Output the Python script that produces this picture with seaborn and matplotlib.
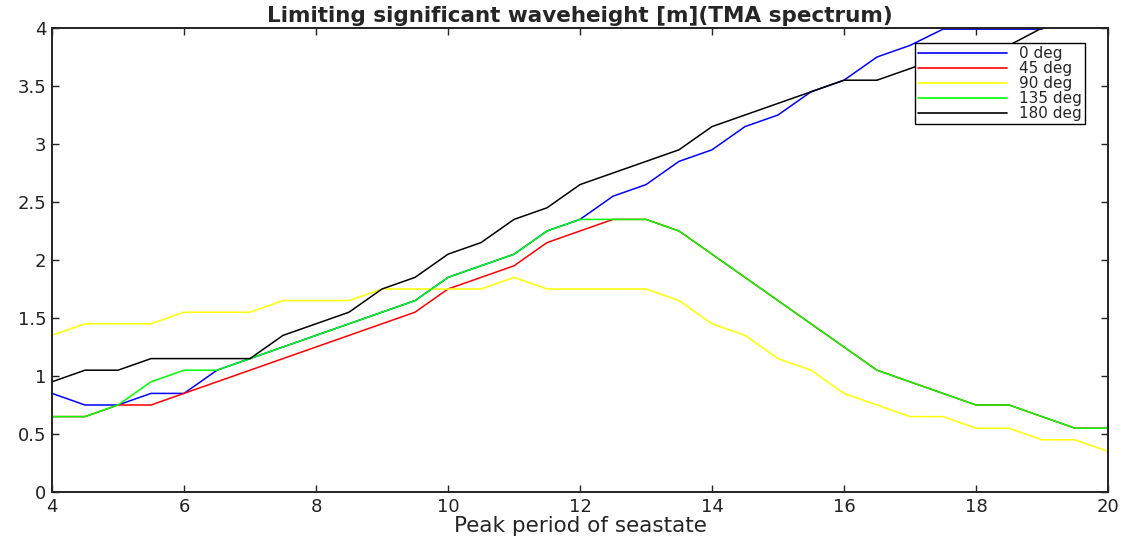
import numpy as np
import pandas as pd
import matplotlib
matplotlib.use("Agg")
import matplotlib.pyplot as plt
import seaborn as sns

# ---- data ----
periods = [4, 4.5, 5, 5.5, 6, 6.5, 7, 7.5, 8, 8.5, 9, 9.5, 10, 10.5, 11, 11.5,
           12, 12.5, 13, 13.5, 14, 14.5, 15, 15.5, 16, 16.5, 17, 17.5, 18, 18.5,
           19, 19.5, 20]
hs_0 = [0.85, 0.75, 0.75, 0.85, 0.85, 1.05, 1.15, 1.25, 1.35, 1.45, 1.55, 1.65,
        1.85, 1.95, 2.05, 2.25, 2.35, 2.55, 2.65, 2.85, 2.95, 3.15, 3.25, 3.45,
        3.55, 3.75, 3.85, 3.99, 3.99, 3.99, 3.99, 4.2, 4.4]
hs_45 = [0.65, 0.65, 0.75, 0.75, 0.85, 0.95, 1.05, 1.15, 1.25, 1.35, 1.45, 1.55,
         1.75, 1.85, 1.95, 2.15, 2.25, 2.35, 2.35, 2.25, 2.05, 1.85, 1.65, 1.45,
         1.25, 1.05, 0.95, 0.85, 0.75, 0.75, 0.65, 0.55, 0.55]
hs_90 = [1.35, 1.45, 1.45, 1.45, 1.55, 1.55, 1.55, 1.65, 1.65, 1.65, 1.75, 1.75,
         1.75, 1.75, 1.85, 1.75, 1.75, 1.75, 1.75, 1.65, 1.45, 1.35, 1.15, 1.05,
         0.85, 0.75, 0.65, 0.65, 0.55, 0.55, 0.45, 0.45, 0.35]
hs_135 = [0.65, 0.65, 0.75, 0.95, 1.05, 1.05, 1.15, 1.25, 1.35, 1.45, 1.55, 1.65,
          1.85, 1.95, 2.05, 2.25, 2.35, 2.35, 2.35, 2.25, 2.05, 1.85, 1.65, 1.45,
          1.25, 1.05, 0.95, 0.85, 0.75, 0.75, 0.65, 0.55, 0.55]
hs_180 = [0.95, 1.05, 1.05, 1.15, 1.15, 1.15, 1.15, 1.35, 1.45, 1.55, 1.75, 1.85,
          2.05, 2.15, 2.35, 2.45, 2.65, 2.75, 2.85, 2.95, 3.15, 3.25, 3.35, 3.45,
          3.55, 3.55, 3.65, 3.75, 3.85, 3.85, 4.0, 4.2, 4.4]
series_labels = ["0 deg", "45 deg", "90 deg", "135 deg", "180 deg"]
series_colors = ["#0000ff", "#ff0000", "#ffff00", "#00ff00", "#000000"]
xticks = [4, 6, 8, 10, 12, 14, 16, 18, 20]
yticks = [0, 0.5, 1, 1.5, 2, 2.5, 3, 3.5, 4]
ytick_labels = ["0", "0.5", "1", "1.5", "2", "2.5", "3", "3.5", "4"]
title = "Limiting significant waveheight [m](TMA spectrum)"
xlabel = "Peak period of seastate"

# ---- build long-form frame ----
frames = []
for lab, vals in zip(series_labels, [hs_0, hs_45, hs_90, hs_135, hs_180]):
    frames.append(pd.DataFrame({"period": periods, "hs": vals, "dir": lab}))
df = pd.concat(frames, ignore_index=True)

sns.set_style("ticks")
plt.rcParams["font.family"] = ["DejaVu Sans"]

W, H = 1131, 536
fig = plt.figure(figsize=(W / 100, H / 100), dpi=100)
ax = fig.add_axes([52 / W, 1 - 492 / H, (1108 - 52) / W, (492 - 28) / H])

sns.lineplot(data=df, x="period", y="hs", hue="dir", hue_order=series_labels,
             palette=dict(zip(series_labels, series_colors)), linewidth=1.1,
             ax=ax, sort=False, estimator=None)

ax.set_xlim(4, 20)
ax.set_ylim(0, 4)
ax.set_xticks(xticks)
ax.set_xticklabels([str(t) for t in xticks])
ax.set_yticks(yticks)
ax.set_yticklabels(ytick_labels)
ax.tick_params(direction="in", length=5, width=1.0, top=True, right=True,
               labelsize=13, colors="#222222", pad=4)
for s in ax.spines.values():
    s.set_visible(True)
    s.set_linewidth(1.4)
    s.set_color("#222222")
ax.set_xlabel(xlabel, fontsize=15.5, labelpad=0)
ax.set_ylabel("")
ax.set_title(title, fontsize=15.5, fontweight="bold", pad=4)

leg = ax.legend(loc="upper right", bbox_to_anchor=(1 - 23 / 1056, 1 - 15 / 464),
                fontsize=11, frameon=True, fancybox=False, edgecolor="#000000",
                framealpha=1, handlelength=5.8, labelspacing=0.0, borderpad=0.2,
                handletextpad=0.8, borderaxespad=0)
leg.get_frame().set_linewidth(1.0)
for line in leg.get_lines():
    line.set_linewidth(1.2)

fig.savefig("out.png", dpi=100)
